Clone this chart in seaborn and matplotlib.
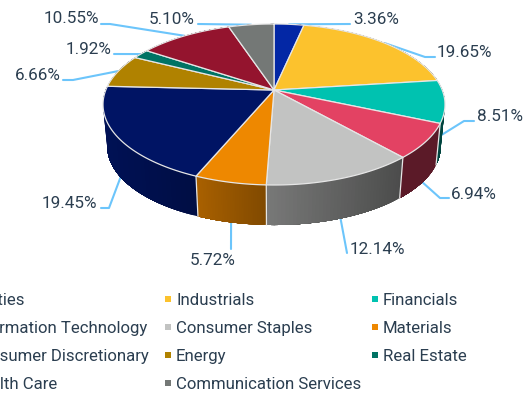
import numpy as np
import matplotlib
matplotlib.use("Agg")
import matplotlib.pyplot as plt
import seaborn as sns

sectors = ["Utilities", "Industrials", "Financials", "Information Technology",
           "Consumer Staples", "Materials", "Consumer Discretionary", "Energy",
           "Real Estate", "Health Care", "Communication Services"]
weights = [3.36, 19.65, 8.51, 6.94, 12.14, 5.72, 19.45, 6.66, 1.92, 10.55, 5.10]
labels = ["3.36%", "19.65%", "8.51%", "6.94%", "12.14%", "5.72%", "19.45%",
          "6.66%", "1.92%", "10.55%", "5.10%"]
top_colors = ["#0327a5", "#fcc22d", "#00c2b0", "#e34263", "#c2c3c2", "#ee8800",
              "#001464", "#b08200", "#007364", "#94142e", "#747876"]

# side wall shading (left factor, right factor) per slice
wall_shade = [(.6, .6), (.5, .5), (.35, .35), (.4, .4), (.62, .39), (.71, .54),
              (.85, .68), (.6, .6), (.6, .6), (.6, .6), (.6, .6)]
INK = "#2b3e50"
LEAD = "#6cc5fb"
EDGE = "#e6e6e6"

# layout of the projected disc, in pixels
CX, CY_TOP, CY_BOT = 274.0, 90.0, 132.4
A, B, K, BOT_SCALE = 168.2, 77.9, 0.18, 0.975

# label layout: text left x, baseline y, elbow points, wall fraction of the anchor
label_layout = [
    (353, 24, [(350, 24)], 0.0),
    (437, 57, [(425, 57), (435, 57)], 0.0),
    (477, 121, [(464, 121), (474, 121)], 0.8),
    (451, 199, [(440, 198), (449, 198)], 1.0),
    (350, 254, [(347, 253)], 1.0),
    (190, 265, [(231, 249)], 1.0),
    (42, 208, [(109, 208), (101, 208)], 1.0),
    (15, 80, [(73, 80), (63, 80)], 0.0),
    (66, 54, [(114, 54)], 0.0),
    (44, 23, [(110, 24), (101, 24)], 0.0),
    (149, 24, [(198, 24)], 0.0),
]
legend_cols = [-30, 176, 383]
legend_rows = [305, 333, 361, 389]
legend_slots = [(0, 0), (1, 0), (2, 0), (0, 1), (1, 1), (2, 1),
                (0, 2), (1, 2), (2, 2), (0, 3), (1, 3)]

sns.set_theme(style="white")
plt.rcParams["font.family"] = ["Roboto", "DejaVu Sans"]
palette = sns.color_palette(top_colors)


def project(pct, wall=0.0):
    """Share position (0-100, clockwise from top) to pixel position."""
    t = np.radians(np.asarray(pct, float) * 3.6)
    u, v = np.sin(t), -np.cos(t)
    w = 1 - K * v
    s = 1 + (BOT_SCALE - 1) * wall
    cy = CY_TOP + (CY_BOT - CY_TOP) * wall
    return CX + s * A * u / w, cy + s * B * v / w


fig = plt.figure(figsize=(5.3, 3.94), dpi=100)
ax = fig.add_axes([0, 0, 1, 1])
ax.set_xlim(0, 530)
ax.set_ylim(394, 0)
ax.axis("off")

edges = np.concatenate([[0], np.cumsum(weights)])
edges = edges / edges[-1] * 100

# side walls: overlapping strips, each reaching to the end of its slice, so no seams show
for i, col in enumerate(palette):
    grid = np.linspace(edges[i], edges[i + 1], 41)
    xt, yt = project(grid)
    xb, yb = project(grid, 1.0)
    xmin, xmax = xt.min(), xt.max()
    f0, f1 = wall_shade[i]
    for j in range(len(grid) - 1):
        fr = ((xt[j] + xt[j + 1]) / 2 - xmin) / max(xmax - xmin, 1)
        f = f0 + (f1 - f0) * fr
        c = tuple(np.array(col) * f)
        ax.fill(np.r_[xt[j:], xb[j:][::-1]], np.r_[yt[j:], yb[j:][::-1]],
                facecolor=c, edgecolor="none", lw=0, zorder=2)

# wall separators on the visible front
for e in edges[:-1]:
    xt, yt = project(e)
    xb, yb = project(e, 1.0)
    if -np.cos(np.radians(e * 3.6)) > 0.1:
        ax.plot([xt, xb], [yt, yb], color=EDGE, lw=0.9, zorder=3)

# top faces
for i, col in enumerate(palette):
    grid = np.linspace(edges[i], edges[i + 1], 81)
    x, y = project(grid)
    ax.fill(np.r_[CX, x], np.r_[CY_TOP, y], facecolor=col, edgecolor=EDGE,
            lw=0.9, joinstyle="round", zorder=4)

# leader lines and percentage labels
mids = (edges[:-1] + edges[1:]) / 2
for m, lab, (tx, ty, pts, wall) in zip(mids, labels, label_layout):
    x0, y0 = project(m, wall)
    xs = [float(x0)] + [p[0] for p in pts]
    ys = [float(y0)] + [p[1] for p in pts]
    order = sorted(range(1, len(xs)), key=lambda k: (xs[k] - xs[0]) ** 2 + (ys[k] - ys[0]) ** 2)
    xs = [xs[0]] + [xs[k] for k in order]
    ys = [ys[0]] + [ys[k] for k in order]
    sns.lineplot(x=xs, y=ys, sort=False, estimator=None, color=LEAD, lw=1.5,
                 ax=ax, zorder=1, legend=False)
    ax.text(tx, ty, lab, fontsize=12.3, color=INK, ha="left", va="baseline", zorder=6)

# legend
for name, col, (c, r) in zip(sectors, palette, legend_slots):
    sns.scatterplot(x=[legend_cols[c] - 8.5], y=[legend_rows[r] - 6.5], marker="s",
                    s=22, color=col, linewidth=0, ax=ax, legend=False, zorder=5)
    ax.text(legend_cols[c], legend_rows[r], name, fontsize=12.05, color=INK,
            ha="left", va="baseline", zorder=6)

ax.set_xlim(0, 530)
ax.set_ylim(394, 0)
fig.savefig("out.png", dpi=100, facecolor="white")
